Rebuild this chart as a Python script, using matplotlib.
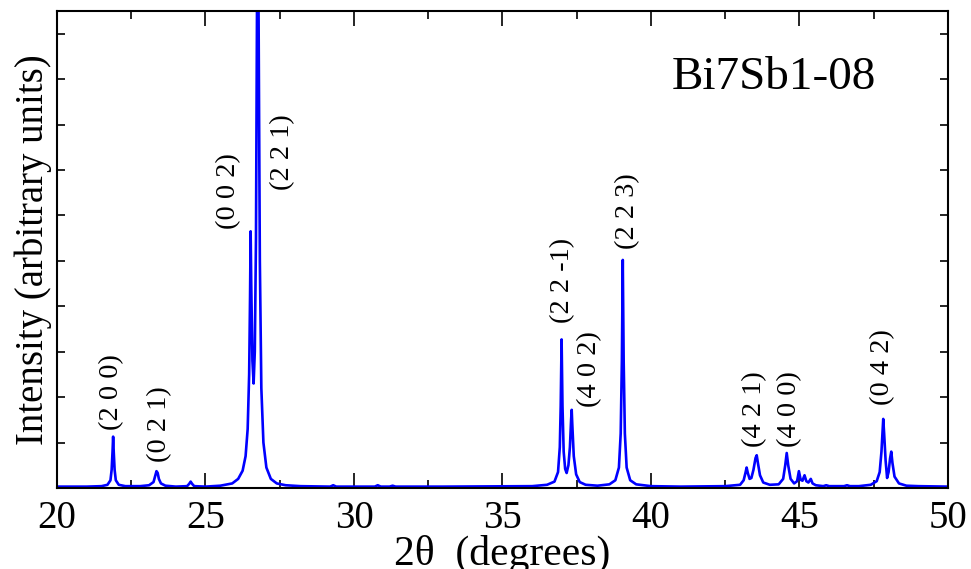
import matplotlib
matplotlib.use('Agg')
import matplotlib.pyplot as plt
from matplotlib.ticker import MultipleLocator, NullFormatter

# XRD pattern (2theta in degrees, intensity in tick units)
two_theta = [
    20.0, 21.0, 21.5, 21.7, 21.8, 21.84, 21.87, 21.89, 21.91, 21.94, 21.98, 22.08, 22.3,
    22.8, 23.1, 23.25, 23.31, 23.35, 23.39, 23.43, 23.5, 23.65, 24.0,
    24.38, 24.45, 24.5, 24.55, 24.62, 25.0,
    25.5, 25.9, 26.1, 26.25, 26.35, 26.42, 26.47, 26.5, 26.52, 26.54, 26.58, 26.62,
    26.66, 26.7, 26.73, 26.76, 26.79, 26.83, 26.88, 26.95, 27.05, 27.2, 27.4, 27.7, 28.2,
    29.2, 29.3, 29.4, 30.7, 30.8, 30.9, 31.2, 31.3, 31.4, 33.0,
    36.0, 36.5, 36.75, 36.87, 36.93, 36.96, 36.99, 37.02, 37.06, 37.11, 37.16,
    37.22, 37.27, 37.31, 37.33, 37.35, 37.4, 37.48, 37.6, 37.8, 38.2,
    38.6, 38.8, 38.92, 38.98, 39.02, 39.05, 39.08, 39.12, 39.18, 39.3, 39.5, 40.0,
    41.0, 42.5, 43.0, 43.12, 43.18, 43.22, 43.26, 43.32, 43.38, 43.45, 43.52, 43.56,
    43.6, 43.67, 43.78, 44.0, 44.3, 44.45, 44.52, 44.57, 44.62, 44.7, 44.82,
    44.92, 44.98, 45.04, 45.1, 45.17, 45.23, 45.3, 45.38, 45.44, 45.55, 45.8,
    45.9, 46.0, 46.5, 46.6, 46.7, 47.0, 47.4, 47.6, 47.7, 47.76, 47.8, 47.82, 47.85,
    47.9, 47.95, 48.0, 48.05, 48.09, 48.13, 48.2, 48.35, 48.6, 49.0, 50.0,
]
intensity = [
    0.03, 0.03, 0.04, 0.07, 0.17, 0.4, 0.8, 1.13, 0.8, 0.4, 0.17, 0.07, 0.04,
    0.04, 0.06, 0.13, 0.27, 0.37, 0.33, 0.2, 0.1, 0.05, 0.03,
    0.04, 0.09, 0.14, 0.09, 0.04, 0.03,
    0.05, 0.1, 0.2, 0.38, 0.7, 1.3, 2.5, 4.2, 5.65, 4.5, 2.8, 2.3,
    3.0, 5.5, 10.0, 14.0, 10.0, 5.0, 2.2, 1.0, 0.45, 0.2, 0.1, 0.06, 0.04,
    0.03, 0.06, 0.03, 0.03, 0.06, 0.03, 0.03, 0.05, 0.03, 0.03,
    0.04, 0.07, 0.14, 0.35, 0.9, 1.8, 3.27, 1.8, 0.8, 0.42, 0.33,
    0.5, 0.9, 1.5, 1.72, 1.4, 0.7, 0.3, 0.13, 0.07, 0.05,
    0.08, 0.17, 0.45, 1.2, 2.8, 5.02, 2.8, 1.2, 0.45, 0.17, 0.08, 0.04,
    0.03, 0.04, 0.07, 0.17, 0.33, 0.45, 0.33, 0.2, 0.22, 0.4, 0.66, 0.72,
    0.55, 0.28, 0.12, 0.07, 0.08, 0.2, 0.5, 0.77, 0.5, 0.2, 0.1,
    0.15, 0.37, 0.18, 0.16, 0.28, 0.15, 0.12, 0.2, 0.1, 0.06, 0.04,
    0.06, 0.04, 0.04, 0.06, 0.04, 0.04, 0.07, 0.15, 0.35, 0.8, 1.3, 1.52, 1.2,
    0.6, 0.22, 0.35, 0.65, 0.8, 0.55, 0.25, 0.1, 0.05, 0.04, 0.03,
]

# Miller index labels and where they sit (x, bottom of the text)
hkl_labels = ['(2 0 0)', '(0 2 1)', '(0 0 2)', '(2 2 1)', '(2 2 -1)',
              '(4 0 2)', '(2 2 3)', '(4 2 1)', '(4 0 0)', '(0 4 2)']
hkl_x = [21.85, 23.47, 25.79, 27.61, 37.04, 37.95, 39.22, 43.5, 44.68, 47.81]
hkl_y = [1.27, 0.57, 5.69, 6.55, 3.63, 1.78, 5.27, 0.9, 0.9, 1.82]

sample_name = 'Bi7Sb1-08'

plt.rcParams['font.family'] = ['Liberation Serif', 'DejaVu Serif']

fig = plt.figure(figsize=(9.71, 5.69), dpi=100)
ax = fig.add_axes([0.0587, 0.1424, 0.9176, 0.8383])

ax.plot(two_theta, intensity, color='#0000ff', linewidth=1.9)

for lab, x, y in zip(hkl_labels, hkl_x, hkl_y):
    ax.text(x, y, lab, rotation=90, ha='center', va='bottom', fontsize=20.5)

ax.text(0.69, 0.86, sample_name, transform=ax.transAxes, fontsize=34,
        ha='left', va='center')

ax.set_xlim(20, 50)
ax.set_ylim(0, 10.5)
ax.xaxis.set_major_locator(MultipleLocator(5))
ax.xaxis.set_minor_locator(MultipleLocator(2.5))
ax.yaxis.set_major_locator(MultipleLocator(1))
ax.yaxis.set_major_formatter(NullFormatter())

ax.tick_params(axis='both', which='both', direction='in', top=True, right=True, width=1.2)
ax.tick_params(axis='x', which='major', length=11, labelsize=28, pad=9)
ax.tick_params(axis='x', which='minor', length=6)
ax.tick_params(axis='y', which='major', length=6)
for sp in ax.spines.values():
    sp.set_linewidth(1.5)

ax.set_xlabel('2θ  (degrees)', fontsize=30, labelpad=-2)
ax.set_ylabel('Intensity (arbitrary units)', fontsize=28, labelpad=0)

fig.savefig('out.png', dpi=100)
plt.close(fig)
